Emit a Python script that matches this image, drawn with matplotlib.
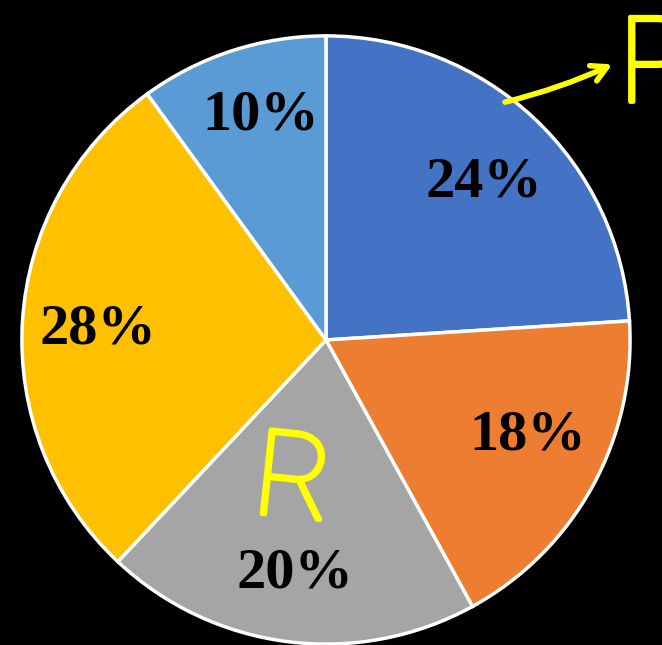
import matplotlib.pyplot as plt
import matplotlib.patheffects as pe

shares = [24, 18, 20, 28, 10]
colors = ['#4472C4', '#ED7D31', '#A5A5A5', '#FFC000', '#5B9BD5']
# label anchor points (pie radius = 1)
label_pos = [(0.518, 0.517), (0.663, -0.313), (-0.101, -0.768), (-0.749, 0.035), (-0.216, 0.737)]

fig = plt.figure(figsize=(6.62, 6.45), dpi=100, facecolor='black')
ax = fig.add_axes([0, 0, 1, 1])
ax.set_facecolor('black')

wedges, texts, autotexts = ax.pie(
    shares, colors=colors, startangle=90, counterclock=False,
    autopct='%d%%', pctdistance=0.75, radius=1.0,
    wedgeprops=dict(edgecolor='white', linewidth=2.5),
    textprops=dict(family='Liberation Serif', fontweight='bold',
                   fontsize=42, color='black'))
for t, p in zip(autotexts, label_pos):
    t.set_position(p)

ax.set_xlim(-1.072, 1.105)
ax.set_ylim(-1.003, 1.118)
ax.set_aspect('auto')
ax.axis('off')

# yellow hand notes
yellow = '#FFFF00'
thick = [pe.withStroke(linewidth=3, foreground=yellow)]
ax.annotate('', xy=(0.95, 0.91), xytext=(0.58, 0.78),
            arrowprops=dict(arrowstyle='->,head_length=1.1,head_width=0.6',
                            color=yellow, lw=4,
                            connectionstyle='arc3,rad=0.05'))
ax.text(1.08, 0.89, 'P', color=yellow, fontsize=86, family='Roboto',
        fontweight='light', ha='center', va='center', path_effects=thick)
ax.text(-0.109, -0.475, 'R', color=yellow, fontsize=86, family='Roboto',
        fontweight='light', ha='center', va='center', rotation=-6,
        path_effects=thick)

fig.savefig('out.png', dpi=100, facecolor='black')
